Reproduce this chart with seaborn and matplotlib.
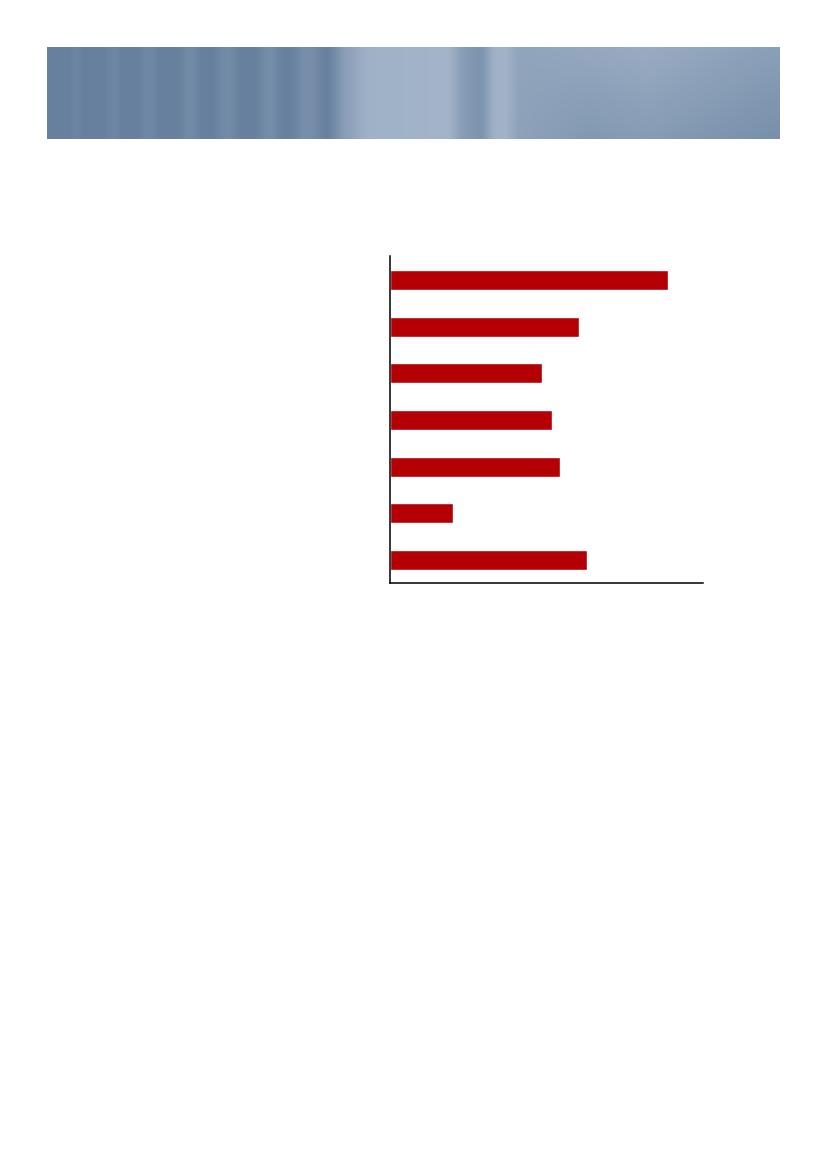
import numpy as np
import pandas as pd
import matplotlib.pyplot as plt
import seaborn as sns

# Werte (Skala 0-100, keine Achsenbeschriftung sichtbar)
kategorien = ["K1", "K2", "K3", "K4", "K5", "K6", "K7"]
werte = [88.8, 60.4, 48.7, 51.7, 54.3, 20.0, 62.9]

df = pd.DataFrame({"Kategorie": kategorien, "Wert": werte})

sns.set_theme(style="white")
fig = plt.figure(figsize=(8.27, 11.69), dpi=100)
fig.patch.set_facecolor("white")

# Kopfbanner (blauer Verlauf mit verschwommenen Streifen)
b_w, b_h = 733, 92
xs = np.arange(b_w)
ys = np.arange(b_h)[:, None]
hell = np.interp(xs, [0, 280, 320, 400, 430, 600, 733], [0.05, 0.25, 0.8, 0.85, 0.55, 0.7, 0.5])
streifen = np.zeros(b_w)
for a, b in [(0, 20), (38, 56), (75, 91), (112, 133), (152, 170), (189, 213), (231, 250), (271, 290), (408, 440)]:
    streifen[a:b] -= 0.22
for a, b in [(443, 465)]:
    streifen[a:b] += 0.25
kern = np.ones(13) / 13
streifen = np.convolve(streifen, kern, mode="same")
feld = np.clip(hell + streifen, 0, 1)[None, :] + 0 * ys
rampe = np.clip((xs - 460) / 80, 0, 1)[None, :]
feld = np.clip(feld - rampe * (ys / b_h) * 0.25, 0, 1)
dunkel = np.array([0x66, 0x80, 0x9e]) / 255
licht = np.array([0xae, 0xbe, 0xd1]) / 255
bild = dunkel + feld[..., None] * (licht - dunkel)
ax_banner = fig.add_axes([47 / 827, 1 - 139 / 1169, 733 / 827, 92 / 1169])
ax_banner.imshow(bild, aspect="auto", interpolation="bilinear")
ax_banner.axis("off")

# Balkendiagramm
ax = fig.add_axes([390 / 827, 1 - 583 / 1169, 313 / 827, 327 / 1169])
sns.barplot(data=df, x="Wert", y="Kategorie", orient="h", color="#b40005",
            saturation=1, width=0.43, ax=ax)
ax.set_xlim(0, 100)
ax.set_ylim(6.5, -0.52)
ax.set_xticks([])
ax.set_yticks([])
ax.set_xlabel("")
ax.set_ylabel("")
ax.set_facecolor("white")
for s in ["top", "right"]:
    ax.spines[s].set_visible(False)
for s in ["left", "bottom"]:
    ax.spines[s].set_color("black")
    ax.spines[s].set_linewidth(1.1)

plt.savefig("out.png", dpi=100)
